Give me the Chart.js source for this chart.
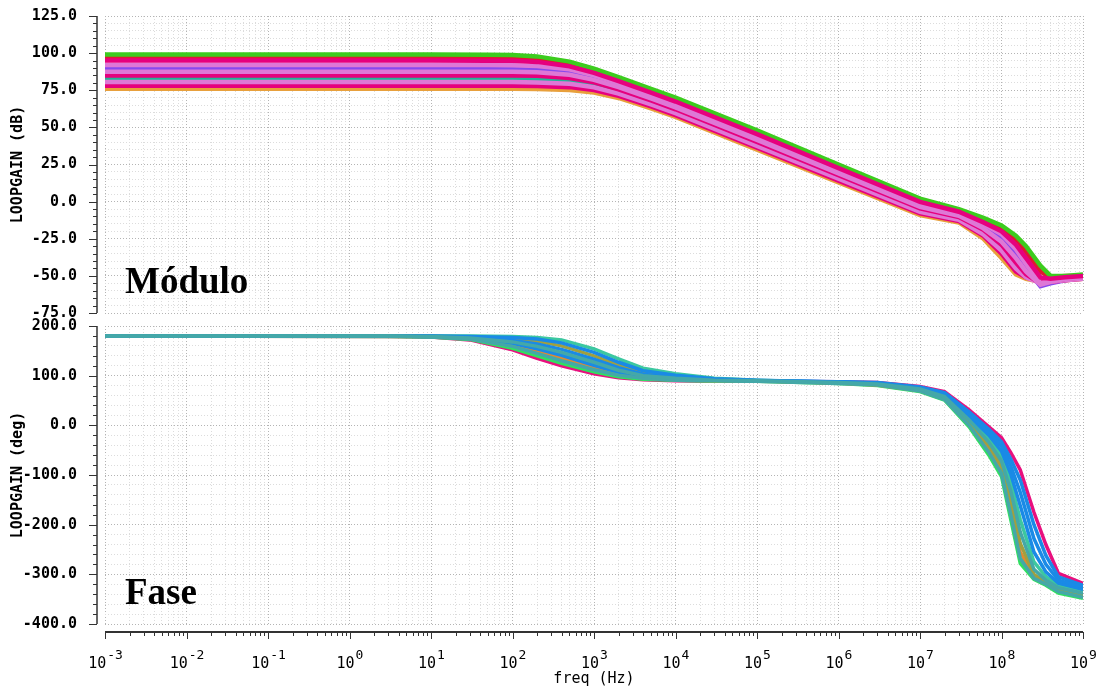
<!DOCTYPE html>
<html>
<head>
<meta charset="utf-8">
<script src="https://cdn.jsdelivr.net/npm/chart.js@4.4.1/dist/chart.umd.min.js"></script>
<style>
  html, body { margin: 0; padding: 0; background: #fff; }
  #wrap { position: relative; width: 1101px; height: 688px; overflow: hidden; }
  #wrap canvas { position: absolute; left: 0; }
  #magCanvas { top: 0; }
  #phaseCanvas { top: 310px; }
</style>
</head>
<body>
<div id="wrap">
  <canvas id="magCanvas" width="1101" height="330"></canvas>
  <canvas id="phaseCanvas" width="1101" height="378"></canvas>
</div>
<script>
const magFreqs = [1e-3, 10, 50, 100, 200, 500, 1e3, 2e3, 5e3, 1e4, 1e5, 1e6, 1e7, 3e7, 6e7, 1e8, 1.5e8, 2e8, 3e8, 4e8, 6e8, 1e9];
const phaseFreqs = [1e-3, 3, 10, 30, 100, 200, 400, 1e3, 2e3, 4e3, 1e4, 3e4, 1e5, 1e6, 3e6, 1e7, 2e7, 4e7, 7e7, 1e8, 1.3e8, 1.7e8, 2.5e8, 3.5e8, 5e8, 1e9];

// LOOPGAIN (dB), one array per run
const magRun1  = [99, 99, 98.9, 98.7, 97.8, 94.3, 89.5, 83.9, 76.0, 70.0, 48.0, 25.0, 2.0, -5.0, -11, -16, -23, -30, -43, -50, -50, -49];
const magRun2  = [97, 97, 96.9, 96.7, 96.0, 92.7, 88.1, 82.5, 74.7, 68.7, 46.7, 23.8, 0.9, -5.9, -13, -18, -26, -34, -47, -51, -50, -50];
const magRun3  = [95, 95, 94.9, 94.8, 94.1, 91.1, 86.7, 81.2, 73.4, 67.4, 45.4, 22.6, -0.2, -6.8, -14, -20, -29, -38, -51, -52, -51, -50];
const magRun4  = [92, 92, 92, 91.8, 91.4, 89.1, 85.1, 79.8, 72.1, 66.1, 44.1, 21.4, -1.3, -7.7, -15, -22, -32, -42, -55, -54, -52, -51];
const magRun5  = [90, 90, 90, 89.9, 89.5, 87.4, 83.7, 78.5, 70.8, 64.8, 42.8, 20.2, -2.4, -8.6, -16, -24, -35, -45, -57, -55, -53, -51];
const magRun6  = [87.5, 87.5, 87.5, 87.4, 87.1, 85.4, 82.0, 77.1, 69.5, 63.5, 41.5, 19.0, -3.5, -9.5, -18, -27, -38, -47, -56, -54, -52, -51];
const magRun7  = [85, 85, 85, 84.9, 84.7, 83.3, 80.4, 75.6, 68.1, 62.2, 40.2, 17.8, -4.6, -10.4, -19, -29, -41, -49, -55, -54, -52, -51];
const magRun8  = [83, 83, 83, 82.9, 82.7, 81.5, 78.8, 74.3, 66.8, 60.9, 38.9, 16.6, -5.7, -11.3, -20, -31, -43, -50, -54, -53, -52, -52];
const magRun9  = [80.5, 80.5, 80.5, 80.5, 80.3, 79.3, 77.0, 72.8, 65.5, 59.6, 37.6, 15.4, -6.8, -12.2, -22, -33, -45, -51, -55, -54, -53, -52];
const magRun10 = [78, 78, 78, 78, 77.8, 77.1, 75.1, 71.2, 64.1, 58.3, 36.3, 14.2, -7.9, -13.1, -23, -35, -47, -51, -54, -54, -53, -52];
const magRun11 = [76, 76, 76, 76, 75.9, 75.2, 73.5, 69.8, 62.8, 57.0, 35.0, 13.0, -9.0, -14.0, -25, -38, -49, -52, -54, -54, -53, -52];
const magRuns = [magRun1, magRun2, magRun3, magRun4, magRun5, magRun6, magRun7, magRun8, magRun9, magRun10, magRun11];
const magColors = ['#3ccc1e', '#e01830', '#e6007e', '#de78d6', '#8848ee', '#de78d6', '#e6007e', '#22b496', '#de78d6', '#e6007e', '#e8a03c'];

// LOOPGAIN (deg), one array per run
const phaseRun1  = [180, 180, 180, 180, 179, 177, 172, 154, 134, 115, 104, 95, 91, 86, 83, 74, 60, 15, -27, -62, -115, -190, -275, -305, -322, -334];
const phaseRun2  = [180, 180, 180, 179, 177, 174, 166, 147, 127, 110, 101, 94, 91, 87, 85, 76, 64, 23, -14, -42, -82, -135, -228, -280, -312, -326];
const phaseRun3  = [180, 180, 180, 178, 174, 169, 160, 140, 121, 106, 98, 93, 90, 85, 82, 71, 56, 7, -41, -82, -150, -238, -300, -316, -330, -341];
const phaseRun4  = [180, 180, 179, 177, 171, 164, 153, 133, 116, 103, 96, 92, 90, 88, 86, 77, 66, 27, -8, -33, -68, -110, -200, -262, -305, -322];
const phaseRun5  = [180, 180, 179, 176, 168, 159, 147, 127, 111, 100, 95, 91, 90, 86, 83, 73, 58, 11, -34, -72, -132, -215, -290, -312, -327, -338];
const phaseRun6  = [180, 180, 179, 175, 165, 154, 141, 121, 107, 98, 93, 91, 90, 87, 84, 75, 62, 19, -20, -52, -98, -162, -255, -295, -318, -330];
const phaseRun7  = [180, 180, 179, 175, 162, 149, 135, 116, 104, 96, 92, 90, 90, 85, 81, 70, 54, 3, -48, -91, -168, -255, -305, -318, -333, -344];
const phaseRun8  = [180, 180, 178, 174, 159, 145, 130, 112, 101, 95, 91, 90, 89, 84, 81, 69, 52, 0, -54, -97, -180, -268, -308, -320, -335, -346];
const phaseRun9  = [180, 179, 178, 173, 155, 140, 125, 108, 98, 93, 91, 89, 89, 84, 80, 68, 51, -3, -60, -103, -190, -278, -310, -322, -338, -348];
const phaseRun10 = [180, 179, 178, 172, 152, 135, 120, 104, 96, 92, 90, 89, 89, 88, 86, 78, 68, 31, -3, -25, -55, -90, -175, -240, -298, -318];
const phaseRuns = [phaseRun1, phaseRun2, phaseRun3, phaseRun4, phaseRun5, phaseRun6, phaseRun7, phaseRun8, phaseRun9, phaseRun10];
const phaseColors = ['#3cc8a0', '#1a8ae6', '#a0a040', '#1a8ae6', '#44a8a8', '#1a8ae6', '#e08a30', '#44a8a8', '#30e060', '#e8107e'];

const magTickStep = 5, magLabelStep = 25;
const phaseTickStep = 20, phaseLabelStep = 100;

Chart.defaults.font.family = '"DejaVu Sans Mono", monospace';
Chart.defaults.color = '#000';

function isDecade(v) {
  const e = Math.round(Math.log10(v));
  return Math.abs(v / Math.pow(10, e) - 1) < 1e-6;
}
function onStep(v, step) {
  const r = Math.abs(v % step);
  return r < 1e-6 || Math.abs(r - step) < 1e-6;
}
function logTicks(scale) {
  const ticks = [];
  for (let e = -3; e < 9; e++) {
    for (let m = 1; m < 10; m++) ticks.push({ value: m * Math.pow(10, e) });
  }
  ticks.push({ value: 1e9 });
  scale.ticks = ticks;
}
function toPoints(freqs, vals) {
  return freqs.map((f, i) => ({ x: f, y: vals[i] }));
}

// axis lines drawn a little off the plot, 10^n labels, and the panel caption
const axisDeco = {
  id: 'axisDeco',
  afterDraw(chart, args, opts) {
    const ctx = chart.ctx, area = chart.chartArea;
    const ys = chart.scales.y, xs = chart.scales.x;
    ctx.save();
    ctx.strokeStyle = '#333';
    ctx.lineWidth = 1.5;
    const ax = area.left - 8;
    ctx.beginPath();
    ctx.moveTo(ax, ys.getPixelForValue(ys.max));
    ctx.lineTo(ax, ys.getPixelForValue(ys.min));
    ctx.stroke();
    ctx.lineWidth = 1;
    ctx.beginPath();
    for (let v = ys.min; v <= ys.max + 1e-6; v += opts.step) {
      const py = Math.round(ys.getPixelForValue(v)) + 0.5;
      const len = onStep(v, opts.labelStep) ? 8 : 4;
      ctx.moveTo(ax, py);
      ctx.lineTo(ax - len, py);
    }
    ctx.stroke();
    if (opts.xAxis) {
      const ay = area.bottom + 8;
      ctx.lineWidth = 2;
      ctx.beginPath();
      ctx.moveTo(area.left, ay);
      ctx.lineTo(area.right, ay);
      ctx.stroke();
      ctx.lineWidth = 1;
      ctx.beginPath();
      xs.ticks.forEach(t => {
        const px = Math.round(xs.getPixelForValue(t.value)) + 0.5;
        ctx.moveTo(px, ay);
        ctx.lineTo(px, ay + (isDecade(t.value) ? 7 : 4));
      });
      ctx.stroke();
      // decade labels as 10 with a raised exponent
      ctx.fillStyle = '#000';
      ctx.textBaseline = 'alphabetic';
      ctx.textAlign = 'left';
      xs.ticks.forEach(t => {
        if (!isDecade(t.value)) return;
        const px = xs.getPixelForValue(t.value);
        const exp = String(Math.round(Math.log10(t.value)));
        ctx.font = '15px "DejaVu Sans Mono", monospace';
        const wb = ctx.measureText('10').width;
        ctx.font = '13px "DejaVu Sans Mono", monospace';
        const we = ctx.measureText(exp).width;
        const x0 = px - (wb + we) / 2;
        ctx.font = '15px "DejaVu Sans Mono", monospace';
        ctx.fillText('10', x0, area.bottom + 44);
        ctx.font = '13px "DejaVu Sans Mono", monospace';
        ctx.fillText(exp, x0 + wb + 1, area.bottom + 35);
      });
    }
    ctx.fillStyle = '#000';
    ctx.font = 'bold 37px "Liberation Serif", serif';
    ctx.textBaseline = 'alphabetic';
    ctx.textAlign = 'left';
    ctx.fillText(opts.caption, area.left + 20, area.bottom - 20);
    ctx.restore();
  }
};

function gridColor(major) {
  return major ? '#b4b4b4' : '#dcdcdc';
}

function makeChart(canvasId, freqs, runs, colors, drawOrder, yOpts, deco, showX, padding, xHeight) {
  const datasets = runs.map((vals, i) => ({
    data: toPoints(freqs, vals),
    borderColor: colors[i],
    borderWidth: yOpts.lineWidth,
    pointRadius: 0,
    tension: 0,
    fill: false,
    order: drawOrder[colors[i]] !== undefined ? drawOrder[colors[i]] : 1
  }));
  return new Chart(document.getElementById(canvasId), {
    type: 'line',
    data: { datasets },
    options: {
      responsive: false,
      animation: false,
      devicePixelRatio: 1,
      events: [],
      layout: { padding },
      plugins: { legend: { display: false }, tooltip: { enabled: false }, axisDeco: deco },
      scales: {
        x: {
          type: 'logarithmic',
          min: 1e-3,
          max: 1e9,
          afterBuildTicks: logTicks,
          // fixed height, and no extra room asked for the end labels
          afterFit: s => { s.height = xHeight; s.paddingLeft = 0; s.paddingRight = 0; },
          border: { display: false, dash: [1, 2] },
          grid: { drawTicks: false, color: c => gridColor(c.tick && isDecade(c.tick.value)) },
          ticks: { display: false, autoSkip: false },
          title: { display: showX, text: 'freq (Hz)', font: { size: 15 }, padding: { top: 0, bottom: 0 } }
        },
        y: {
          min: yOpts.min,
          max: yOpts.max,
          afterFit: s => { s.width = 105; s.paddingTop = 0; s.paddingBottom = 0; },
          border: { display: false, dash: [1, 2] },
          grid: { drawTicks: false, color: c => gridColor(c.tick && onStep(c.tick.value, yOpts.labelStep)) },
          ticks: {
            stepSize: yOpts.step,
            autoSkip: false,
            padding: 28,
            font: { size: 15, weight: 'bold' },
            callback: v => onStep(v, yOpts.labelStep) ? v.toFixed(1) : ''
          },
          title: { display: true, text: yOpts.title, font: { size: 15, weight: 'bold' }, padding: { top: 9, bottom: 0 } }
        }
      }
    },
    plugins: [axisDeco]
  });
}

makeChart('magCanvas', magFreqs, magRuns, magColors, { '#e6007e': 0, '#de78d6': 0 },
  { min: -75, max: 125, step: magTickStep, labelStep: magLabelStep, title: 'LOOPGAIN (dB)', lineWidth: 4.5 },
  { step: magTickStep, labelStep: magLabelStep, caption: 'Módulo', xAxis: false },
  false, { left: 0, right: 18, top: 16, bottom: 17 }, 0);

makeChart('phaseCanvas', phaseFreqs, phaseRuns, phaseColors, { '#44a8a8': -1, '#1a8ae6': 0 },
  { min: -400, max: 200, step: phaseTickStep, labelStep: phaseLabelStep, title: 'LOOPGAIN (deg)', lineWidth: 3.5 },
  { step: phaseTickStep, labelStep: phaseLabelStep, caption: 'Fase', xAxis: true },
  true, { left: 0, right: 18, top: 16, bottom: 0 }, 64);
</script>
</body>
</html>
